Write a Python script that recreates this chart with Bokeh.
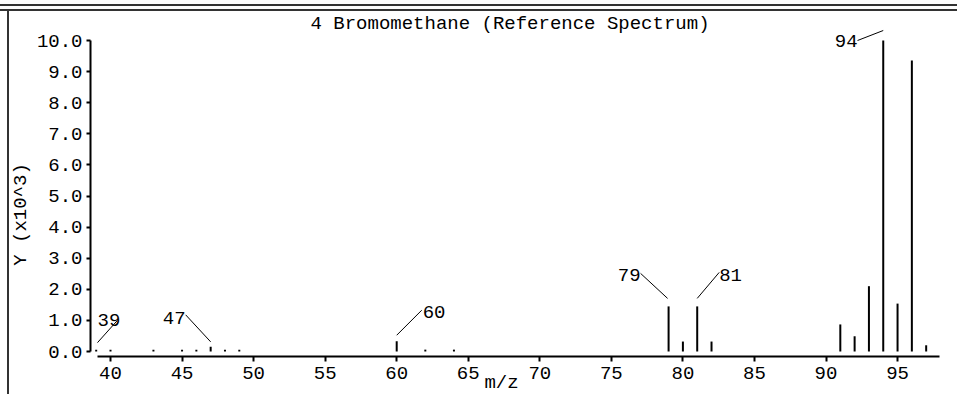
import math
from bokeh.plotting import figure
from bokeh.models import Range1d, FixedTicker
from bokeh.core.properties import value
from bokeh.embed import file_html
from bokeh.resources import INLINE

# ---------------- data ----------------
mz = [39, 40, 43, 45, 46, 47, 48, 49, 60, 62, 64, 79, 80, 81, 82, 91, 92, 93, 94, 95, 96, 97]
intensity = [0.06, 0.06, 0.06, 0.06, 0.06, 0.15, 0.06, 0.06, 0.33, 0.06, 0.06,
             1.45, 0.32, 1.45, 0.32, 0.87, 0.49, 2.10, 10.0, 1.54, 9.36, 0.20]
labelled_mz = [39, 47, 60, 79, 81, 94]
x_ticks = [40, 45, 50, 55, 60, 65, 70, 75, 80, 85, 90, 95]
y_ticks = [0, 1, 2, 3, 4, 5, 6, 7, 8, 9, 10]
y_tick_labels = ["0.0", "1.0", "2.0", "3.0", "4.0", "5.0", "6.0", "7.0", "8.0", "9.0", "10.0"]
title_text = "4 Bromomethane (Reference Spectrum)"
x_label = "m/z"
y_label = "Y (x10^3)"

# ---------------- style / layout ----------------
FONT = "Liberation Mono"
FS = "19px"
W, H = 957, 394
SX = 14.31          # px per m/z unit
SY = 31.1           # px per 1.0 (x10^3)
PX40, PY0 = 110, 351  # pixel of m/z 40 and of intensity 0


def dx(px):  # pixel x -> data x
    return 40 + (px - PX40) / SX


def dy(py):  # pixel y -> data y
    return (PY0 - py) / SY


X0, X1 = dx(0), dx(W)
Y0, Y1 = dy(H), dy(0)

# leader offsets in px relative to the peak top:
# (start dx, start up, end dx, end up, text dx, text centre up, align)
leader_style = {
    39: (1.3, 7, 21, 29, 1.3, 30, "left"),
    47: (0, 5, -25, 32, -25, 29, "right"),
    60: (0, 6, 25, 31, 26, 29, "left"),
    79: (-1, 8, -28, 33, -28, 31, "right"),
    81: (0, 8, 22, 34, 22, 31, "left"),
    94: (0, 10, -25.7, 0, -25.7, 0, "right"),
}

p = figure(width=W, height=H,
           x_range=Range1d(X0, X1), y_range=Range1d(Y0, Y1),
           output_backend="svg", toolbar_location=None,
           min_border=0, min_border_left=0, min_border_right=0,
           min_border_top=0, min_border_bottom=0)
p.outline_line_color = None
p.border_fill_color = None
p.background_fill_color = None
p.grid.visible = False
p.styles = {"box-shadow": "inset 0 4px 0 0 #ffffff, inset 0 6px 0 0 #333333, "
                          "inset 0 9px 0 0 #ffffff, inset 0 11px 0 0 #333333, "
                          "inset 7px 0 0 0 #ffffff, inset 9px 0 0 0 #333333"}

for ax in (p.xaxis[0], p.yaxis[0]):
    ax.axis_line_width = 2
    ax.axis_line_color = "black"
    ax.major_tick_line_width = 2
    ax.major_tick_line_color = "black"
    ax.major_tick_in = 0
    ax.minor_tick_line_color = None
    ax.major_label_text_font = FONT
    ax.major_label_text_font_size = FS
    ax.major_label_text_color = "black"

p.xaxis.ticker = FixedTicker(ticks=x_ticks)
p.xaxis.major_tick_out = 5
p.xaxis.major_label_standoff = 5
p.xaxis.fixed_location = dy(356)
p.xaxis.bounds = (dx(97), dx(939))

p.yaxis.ticker = FixedTicker(ticks=y_ticks)
p.yaxis.major_label_overrides = {t: l for t, l in zip(y_ticks, y_tick_labels)}
p.yaxis.major_tick_out = 4
p.yaxis.major_label_standoff = 4
p.yaxis.fixed_location = dx(90)
p.yaxis.bounds = (0, 10)

# peaks
p.segment(x0=mz, y0=[0] * len(mz), x1=mz, y1=intensity, line_width=2, line_color="black")

# leaders and labels
lx0, ly0, lx1, ly1 = [], [], [], []
tl = dict(x=[], y=[], t=[], ox=[], oy=[])
tr = dict(x=[], y=[], t=[], ox=[], oy=[])
for m in labelled_mz:
    yv = intensity[mz.index(m)]
    sdx, sup, edx, eup, tdx, tup, al = leader_style[m]
    lx0.append(m + sdx / SX); ly0.append(yv + sup / SY)
    lx1.append(m + edx / SX); ly1.append(yv + eup / SY)
    d = tl if al == "left" else tr
    d["x"].append(m); d["y"].append(yv); d["t"].append(str(m))
    d["ox"].append(tdx); d["oy"].append(-tup)

p.segment(x0=lx0, y0=ly0, x1=lx1, y1=ly1, line_width=1, line_color="black")
for d, al in ((tl, "left"), (tr, "right")):
    p.text(x=d["x"], y=d["y"], text=d["t"], x_offset=d["ox"], y_offset=d["oy"],
           text_font=value(FONT), text_font_size=FS, text_align=al,
           text_baseline="middle", text_color="black")

# title, axis labels (as text inside the full-canvas frame)
p.text(x=[dx(509.5)], y=[dy(23.5)], text=[title_text],
       text_font=value(FONT), text_font_size=FS, text_align="center",
       text_baseline="middle", text_color="black")
p.text(x=[dx(20.5)], y=[dy(214)], text=[y_label], angle=math.pi / 2,
       text_font=value(FONT), text_font_size=FS, text_align="center",
       text_baseline="middle", text_color="black")
p.text(x=[dx(501)], y=[dy(382)], text=[x_label],
       text_font=value(FONT), text_font_size=FS, text_align="center",
       text_baseline="middle", text_color="black")

open("out.html", "w").write(file_html(p, INLINE))
